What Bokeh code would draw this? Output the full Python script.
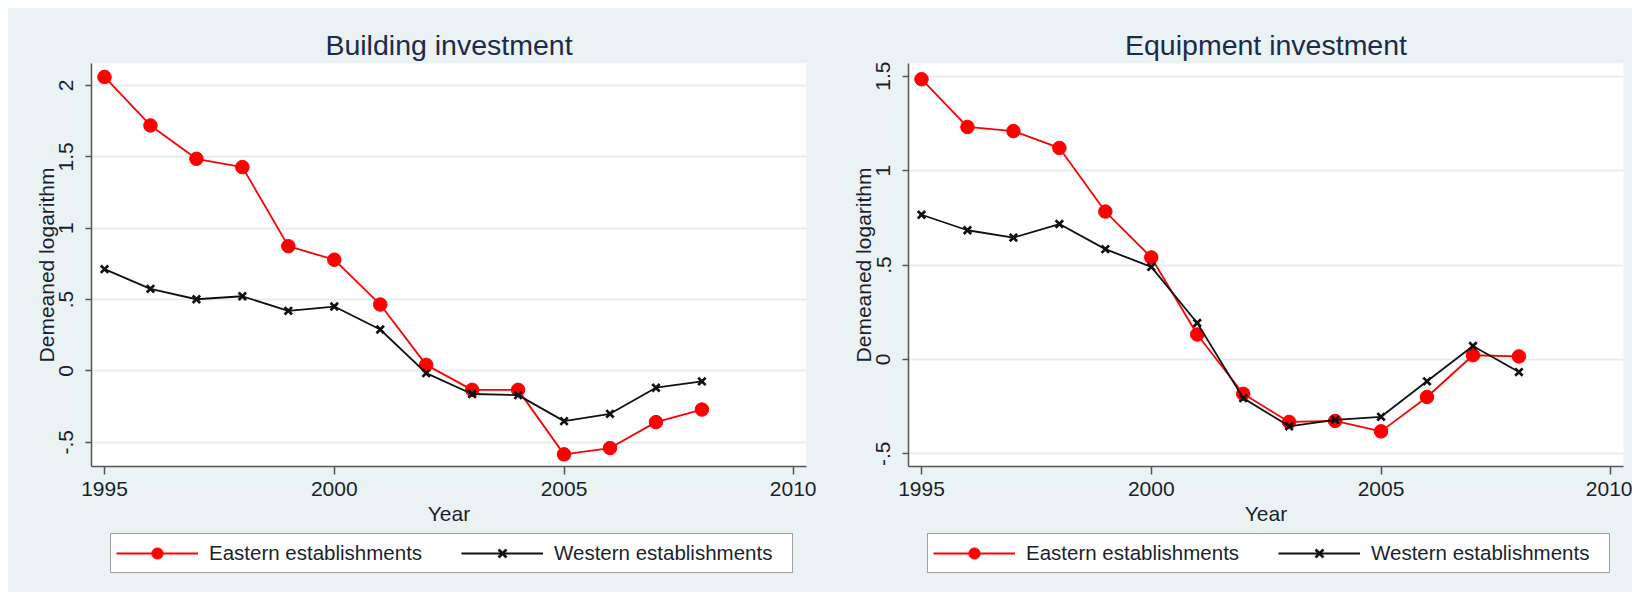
from bokeh.plotting import figure
from bokeh.models import FixedTicker, Range1d, Legend, LegendItem
from bokeh.layouts import row, column
from bokeh.embed import file_html
from bokeh.resources import INLINE

years = list(range(1995, 2009))
building_east = [2.06, 1.72, 1.486, 1.428, 0.874, 0.779, 0.465, 0.042, -0.133, -0.133, -0.585, -0.541, -0.359, -0.271]
building_west = [0.713, 0.575, 0.502, 0.523, 0.421, 0.451, 0.29, -0.016, -0.162, -0.17, -0.352, -0.301, -0.118, -0.074]
equip_east = [1.484, 1.231, 1.209, 1.12, 0.783, 0.54, 0.132, -0.182, -0.331, -0.326, -0.381, -0.199, 0.022, 0.016]
equip_west = [0.766, 0.684, 0.645, 0.717, 0.584, 0.49, 0.193, -0.205, -0.354, -0.32, -0.304, -0.116, 0.071, -0.067]

x_ticks = [1995, 2000, 2005, 2010]
building_yticks = [-0.5, 0, 0.5, 1, 1.5, 2]
building_ylabels = ["-.5", "0", ".5", "1", "1.5", "2"]
equip_yticks = [-0.5, 0, 0.5, 1, 1.5]
equip_ylabels = ["-.5", "0", ".5", "1", "1.5"]

titles = ["Building investment", "Equipment investment"]
series_names = ["Eastern establishments", "Western establishments"]
x_title = "Year"
y_title = "Demeaned logarithm"

BG = "#EAF2F3"
FONT = "Liberation Sans"
TXT = "#1a1f2e"
TITLE_C = "#1C2B4B"
EAST_C = "#FF0000"
WEST_C = "#111111"


def add_series(p, east, west):
    le = p.line(years, east, line_color=EAST_C, line_width=1.8)
    se = p.scatter(years, east, marker="circle", size=13.5, fill_color=EAST_C, line_color=EAST_C)
    lw = p.line(years, west, line_color=WEST_C, line_width=1.8)
    sw = p.scatter(years, west, marker="x", size=10.5, line_color=WEST_C, line_width=2.7)
    return le, se, lw, sw


def make_panel(title, east, west, yticks, ylabels, yr, width, bl, br):
    p = figure(width=width, height=522, output_backend="svg", toolbar_location=None,
               x_range=Range1d(1994.717, 2010.276), y_range=Range1d(*yr),
               min_border_left=bl, min_border_right=br, min_border_top=55, min_border_bottom=64)
    p.background_fill_color = "white"
    p.border_fill_color = BG
    p.outline_line_color = None

    p.title.text = title
    p.title.align = "center"
    p.title.text_font = FONT
    p.title.text_font_size = "28.5px"
    p.title.text_font_style = "normal"
    p.title.text_color = TITLE_C
    p.title.standoff = 6

    xa = p.xaxis[0]
    xa.ticker = FixedTicker(ticks=x_ticks)
    xa.axis_label = x_title
    ya = p.yaxis[0]
    ya.ticker = FixedTicker(ticks=yticks)
    ya.major_label_overrides = {t: l for t, l in zip(yticks, ylabels)}
    ya.major_label_orientation = "vertical"
    ya.axis_label = y_title
    for ax in (xa, ya):
        ax.axis_line_color = "#555555"
        ax.axis_line_width = 1.5
        ax.major_tick_line_color = "#555555"
        ax.major_tick_line_width = 1.5
        ax.major_tick_in = 0
        ax.minor_tick_line_color = None
        ax.major_label_text_font = FONT
        ax.major_label_text_font_size = "21px"
        ax.major_label_text_color = TXT
        ax.axis_label_text_font = FONT
        ax.axis_label_text_font_size = "21px"
        ax.axis_label_text_font_style = "normal"
        ax.axis_label_text_color = TXT
    xa.major_tick_out = 8
    xa.major_label_standoff = 7
    xa.axis_label_standoff = 3
    ya.major_tick_out = 6
    ya.major_label_standoff = 12
    ya.axis_label_standoff = -1

    p.xgrid.grid_line_color = None
    p.ygrid.grid_line_color = "#E4EDEF"
    p.ygrid.grid_line_width = 2

    add_series(p, east, west)
    return p


def make_legend(east, west, width, bl, br):
    # legend strip below the panel; its renderers lie outside its (empty) ranges
    q = figure(width=width, height=62, output_backend="svg", toolbar_location=None,
               x_range=Range1d(0, 1), y_range=Range1d(0, 1),
               x_axis_type=None, y_axis_type=None,
               min_border_left=bl, min_border_right=br, min_border_top=0, min_border_bottom=0)
    q.background_fill_color = BG
    q.border_fill_color = BG
    q.outline_line_color = None
    q.xgrid.visible = False
    q.ygrid.visible = False
    le, se, lw, sw = add_series(q, east, west)
    legend = Legend(items=[LegendItem(label=series_names[0], renderers=[le, se]),
                           LegendItem(label=series_names[1], renderers=[lw, sw])],
                    orientation="horizontal", location=(19, 19),
                    glyph_width=82, glyph_height=28, label_standoff=11, label_width=233,
                    spacing=19, padding=5, margin=0,
                    label_text_font=FONT, label_text_font_size="20.5px", label_text_color=TXT,
                    border_line_color="#444444", border_line_width=1.5,
                    background_fill_color="white", background_fill_alpha=1.0)
    q.add_layout(legend)
    return q


p1 = make_panel(titles[0], building_east, building_west, building_yticks, building_ylabels,
                (-0.670, 2.154), 808, 83, 10)
p2 = make_panel(titles[1], equip_east, equip_west, equip_yticks, equip_ylabels,
                (-0.567, 1.567), 816, 92, 9)
l1 = make_legend(building_east, building_west, 808, 83, 10)
l2 = make_legend(equip_east, equip_west, 816, 92, 9)

bgstyle = {"background-color": BG}
c1 = column(p1, l1, spacing=0, styles=bgstyle)
c2 = column(p2, l2, spacing=0, styles=bgstyle)
layout = row(c1, c2, spacing=0, margin=(8, 0, 0, 8), styles=bgstyle)
open("out.html", "w").write(file_html(layout, INLINE))
